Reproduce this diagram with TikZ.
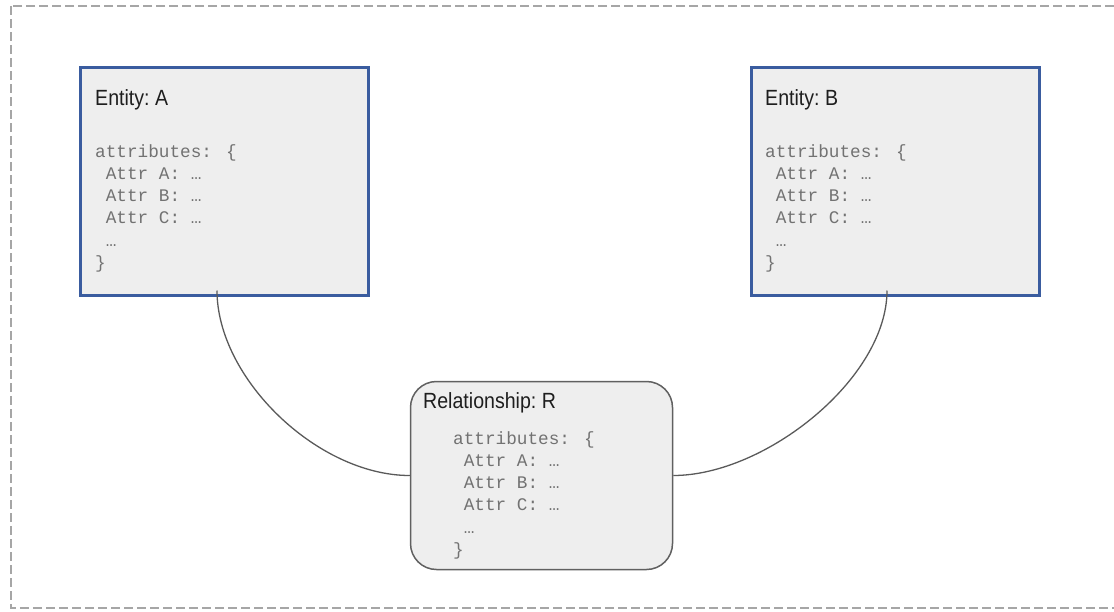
\documentclass[tikz,border=0pt]{standalone}
\usepackage{fontspec}
\newfontfamily\titlefont[FakeStretch=0.89, WordSpace=0.7]{Liberation Sans}
\newfontfamily\codefont{Liberation Mono}
\definecolor{entityblue}{HTML}{3A5C9F}
\definecolor{boxfill}{HTML}{EEEEEE}
\definecolor{relborder}{HTML}{606060}
\definecolor{codegray}{HTML}{727272}
\definecolor{titlegray}{HTML}{1E1E1E}
\definecolor{framegray}{HTML}{A6A6A6}
\definecolor{linkgray}{HTML}{5A5A5A}
\tikzset{
  entitybox/.style={draw=entityblue, line width=3pt, fill=boxfill,
    rectangle, minimum width=288pt, minimum height=228pt, inner sep=0pt},
  relbox/.style={draw=relborder, line width=1.5pt, fill=boxfill,
    rectangle, rounded corners=26pt, minimum width=262pt, minimum height=188pt, inner sep=0pt},
  boxtitle/.style={anchor=base west, inner sep=0pt, text=titlegray,
    font=\titlefont\fontsize{22}{26}\selectfont},
  attrlist/.style={anchor=north west, inner sep=0pt, align=left, text=codegray,
    font=\codefont\fontsize{17.7}{22.2}\selectfont},
  link/.style={draw=linkgray, line width=1.3pt},
  frame/.style={draw=framegray, line width=1.8pt, dash pattern=on 9pt off 4pt}
}
\newcommand{\attrtext}{\rule{0pt}{16pt}attributes: \{\\
\hphantom{a}Attr A: …\\
\hphantom{a}Attr B: …\\
\hphantom{a}Attr C: …\\
\hphantom{a}…\\
\}}
\begin{document}
\begin{tikzpicture}[x=1pt, y=-1pt]
  \useasboundingbox (0,0) rectangle (1114,611);
  \clip (0,0) rectangle (1114,611);
  \fill[white] (0,0) rectangle (1114,611);

  % dashed outer frame (right side runs past the page edge)
  \draw[frame] (11,6) rectangle (1124,608);

  % entities
  \node[entitybox] (ea) at (224.5,181.5) {};
  \node[entitybox] (eb) at (895,181.5) {};
  \node[boxtitle] (eatitle) at (95,105) {Entity: A};
  \node[attrlist] (eaattr) at (95,141) {\attrtext};
  \node[boxtitle] (ebtitle) at (765,105) {Entity: B};
  \node[attrlist] (ebattr) at (765,141) {\attrtext};

  % relationship
  \node[relbox] (rel) at (541.5,475.5) {};
  \node[boxtitle] (reltitle) at (423,408.5) {Relationship: R};
  \node[attrlist] (relattr) at (453,428) {\attrtext};

  % links from the entities to the relationship
  \draw[link] ([xshift=-7.5pt,yshift=6.5pt]ea.south) .. controls +(0,88) and +(-92,0) .. (rel.west);
  \draw[link] ([xshift=-8pt,yshift=6.5pt]eb.south) .. controls +(0,88) and +(92,0) .. (rel.east);
\end{tikzpicture}
\end{document}
